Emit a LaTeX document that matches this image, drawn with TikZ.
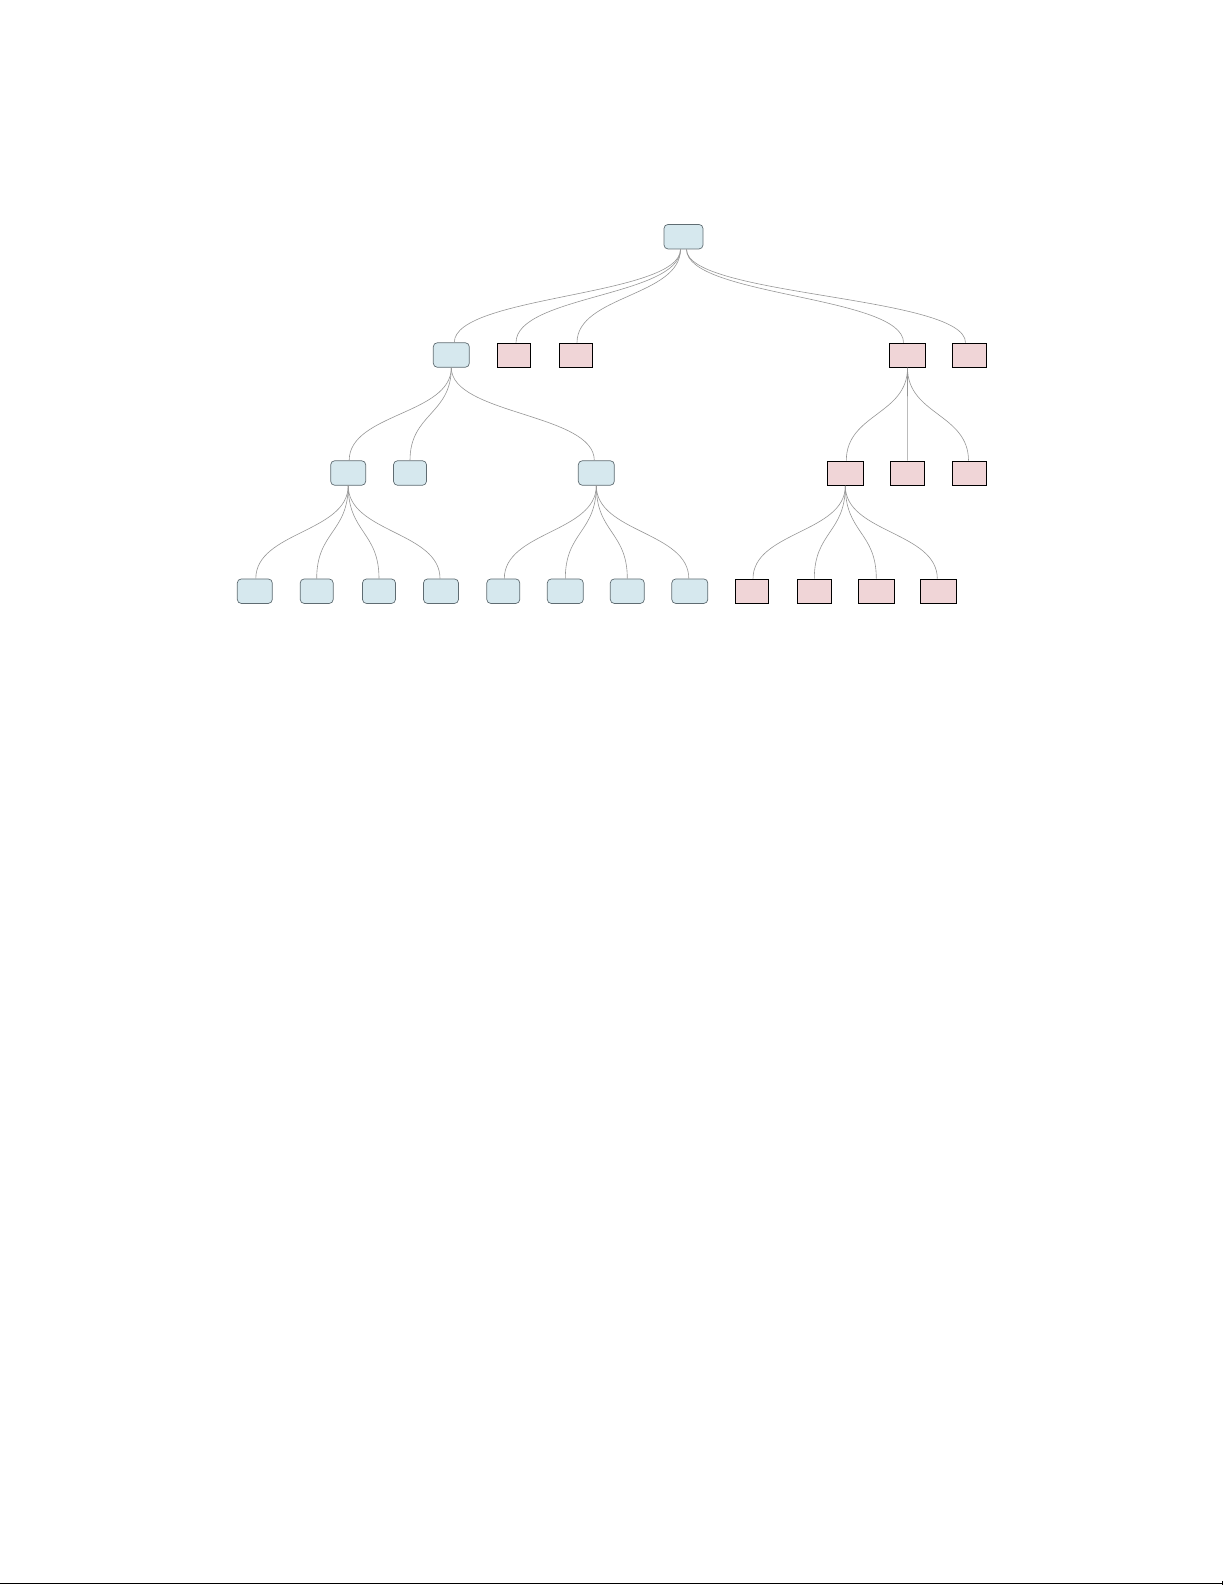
\documentclass[tikz,border=0pt]{standalone}
\definecolor{bluefill}{RGB}{214,232,238}
\definecolor{blueline}{RGB}{95,108,114}
\definecolor{pinkfill}{RGB}{240,213,215}
\definecolor{edgegray}{RGB}{150,150,150}
\tikzset{
  bluebox/.style={draw=blueline, fill=bluefill, line width=0.7pt, rounded corners=4pt,
    minimum height=24.5pt, inner sep=0pt},
  pinkbox/.style={draw=black, fill=pinkfill, line width=1.2pt,
    minimum height=24pt, inner sep=0pt},
  edgeline/.style={draw=edgegray, line width=0.6pt},
}
\newcommand{\treeedge}[4][0pt]{%
  \draw[edgeline] ([xshift=#1]#2.south) .. controls +(0,47) and +(0,-47) .. ([xshift=#4]#3.north);}
\begin{document}
\begin{tikzpicture}[x=1pt,y=-1pt]
\useasboundingbox (0,0) rectangle (1225,1585);
% level 0
\node[bluebox, minimum width=39pt] (root) at (683.5,236.7) {};
% level 1
\node[bluebox, minimum width=36pt] (b1) at (451.3,355) {};
\node[pinkbox, minimum width=33pt] (p1) at (514,355.2) {};
\node[pinkbox, minimum width=33pt] (p2) at (576,355.2) {};
\node[pinkbox, minimum width=36pt] (r1) at (907.5,355.2) {};
\node[pinkbox, minimum width=34pt] (r2) at (969.5,355.2) {};
% level 2
\node[bluebox, minimum width=35pt] (b11) at (348.2,473) {};
\node[bluebox, minimum width=33pt] (b12) at (410,473) {};
\node[bluebox, minimum width=36pt] (b13) at (596.3,473) {};
\node[pinkbox, minimum width=36pt] (r11) at (845.3,473.3) {};
\node[pinkbox, minimum width=34pt] (r12) at (907.3,473.3) {};
\node[pinkbox, minimum width=34pt] (r13) at (969.5,473.3) {};
% level 3
\node[bluebox, minimum width=35pt] (l1) at (254.8,591.2) {};
\node[bluebox, minimum width=33pt] (l2) at (316.7,591.2) {};
\node[bluebox, minimum width=33pt] (l3) at (379,591.2) {};
\node[bluebox, minimum width=35pt] (l4) at (441,591.2) {};
\node[bluebox, minimum width=33pt] (l5) at (503.3,591.2) {};
\node[bluebox, minimum width=36pt] (l6) at (565.3,591.2) {};
\node[bluebox, minimum width=34pt] (l7) at (627.3,591.2) {};
\node[bluebox, minimum width=36pt] (l8) at (689.8,591.2) {};
\node[pinkbox, minimum width=33pt] (q1) at (752,591.3) {};
\node[pinkbox, minimum width=34pt] (q2) at (814.3,591.3) {};
\node[pinkbox, minimum width=36pt] (q3) at (876.3,591.3) {};
\node[pinkbox, minimum width=36pt] (q4) at (938.3,591.3) {};
% edges from root
\treeedge[-3pt]{root}{b1}{3pt}
\treeedge[-3pt]{root}{p1}{2pt}
\treeedge[-3pt]{root}{p2}{1pt}
\treeedge[3pt]{root}{r1}{-4pt}
\treeedge[3pt]{root}{r2}{-4pt}
% edges level 1 -> 2
\treeedge{b1}{b11}{1pt}
\treeedge{b1}{b12}{0pt}
\treeedge{b1}{b13}{-2pt}
\treeedge{r1}{r11}{1pt}
\treeedge{r1}{r12}{0pt}
\treeedge{r1}{r13}{-1pt}
% edges level 2 -> 3
\treeedge{b11}{l1}{1pt}
\treeedge{b11}{l2}{0pt}
\treeedge{b11}{l3}{0pt}
\treeedge{b11}{l4}{-1pt}
\treeedge{b13}{l5}{1pt}
\treeedge{b13}{l6}{0pt}
\treeedge{b13}{l7}{0pt}
\treeedge{b13}{l8}{-1pt}
\treeedge{r11}{q1}{1pt}
\treeedge{r11}{q2}{0pt}
\treeedge{r11}{q3}{0pt}
\treeedge{r11}{q4}{-1pt}
% bottom rule
\coordinate (ruleL) at (0,1583.5);
\coordinate (ruleR) at (1222.5,1583.5);
\draw[line width=1.5pt] (ruleL) -- (ruleR);
\draw[line width=0.8pt] (1222.5,1581) -- (1222.5,1585);
\end{tikzpicture}
\end{document}
